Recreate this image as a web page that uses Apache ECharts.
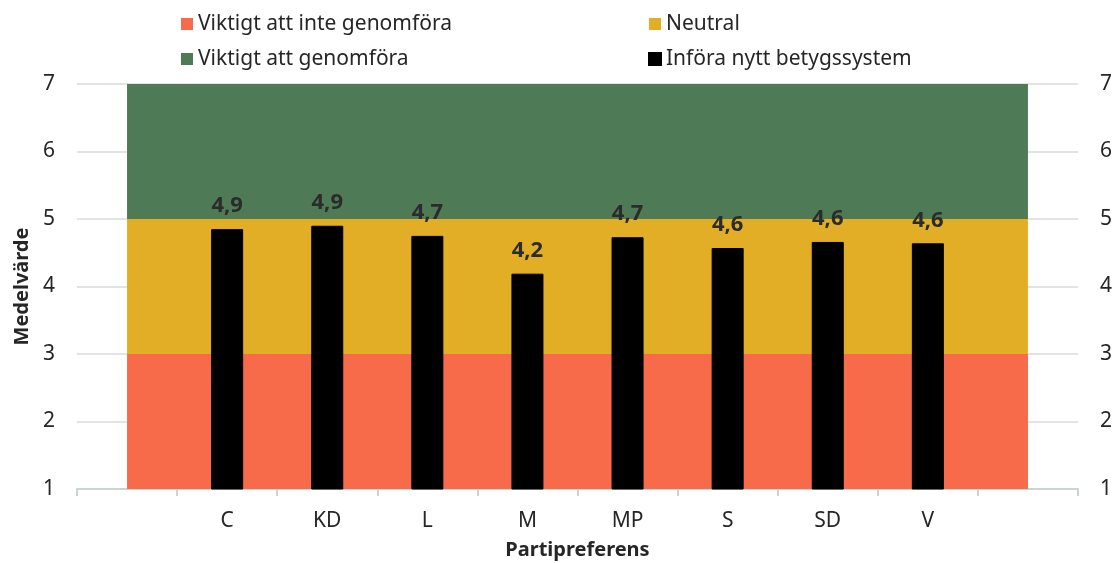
<!DOCTYPE html>
<html>
<head>
<meta charset="utf-8">
<style>
  html, body { margin: 0; padding: 0; background: #fff; }
  #chart { width: 1112px; height: 563px; }
</style>
<script src="https://cdn.jsdelivr.net/npm/echarts@6/dist/echarts.min.js"></script>
</head>
<body>
<div id="chart"></div>
<script>
// categories (first and last slot are empty)
const partier = [" ", "C", "KD", "L", "M", "MP", "S", "SD", "V", "  "]

// background bands, stacked from 1 up to 7
const bandInte = [3, 3, 3, 3, 3, 3, 3, 3, 3, 3]      // 1..3
const bandNeutral = [2, 2, 2, 2, 2, 2, 2, 2, 2, 2]   // 3..5
const bandViktigt = [2, 2, 2, 2, 2, 2, 2, 2, 2, 2]   // 5..7

// mean values per party
const betygssystem = [1, 4.85, 4.9, 4.75, 4.19, 4.73, 4.57, 4.66, 4.64, null]
const etiketter = ["", "4,9", "4,9", "4,7", "4,2", "4,7", "4,6", "4,6", "4,6", ""]

const yTicks = [1, 2, 3, 4, 5, 6, 7]

const FONT = "Noto Sans"
const TEXT = "#262626"

const chart = echarts.init(document.getElementById("chart"))

function band(name, data, color) {
  return {
    name: name,
    type: "line",
    stack: "band",
    data: data,
    symbol: "none",
    silent: true,
    lineStyle: { width: 0 },
    areaStyle: { color: color, opacity: 1 },
    itemStyle: { color: color },
    z: 1
  }
}

const legendText = { fontFamily: FONT, fontSize: 21, color: TEXT, lineHeight: 22 }

chart.setOption({
  animation: false,
  textStyle: { fontFamily: FONT },
  legend: [
    {
      orient: "vertical",
      left: 176,
      top: 8,
      icon: "rect",
      itemWidth: 12,
      itemHeight: 12,
      itemGap: 13,
      textStyle: legendText,
      data: ["Viktigt att inte genomföra", "Viktigt att genomföra"]
    },
    {
      orient: "vertical",
      left: 643,
      top: 8,
      icon: "rect",
      itemWidth: 12,
      itemHeight: 12,
      itemGap: 13,
      textStyle: legendText,
      data: ["Neutral", "Införa nytt betygssystem"]
    }
  ],
  grid: { left: 77, right: 34, top: 84, bottom: 74, containLabel: false, outerBoundsMode: "none" },
  xAxis: {
    type: "category",
    data: partier,
    boundaryGap: true,
    name: "Partipreferens",
    nameLocation: "middle",
    nameGap: 51,
    nameTextStyle: { fontFamily: FONT, fontSize: 20, fontWeight: "bold", color: TEXT },
    axisLine: { lineStyle: { color: "#ccd3d3", width: 2 } },
    axisTick: { show: true, interval: 0, length: 7, lineStyle: { color: "#ccd3d3", width: 2 } },
    axisLabel: { interval: 0, margin: 22, fontFamily: FONT, fontSize: 21, color: TEXT },
    splitLine: { show: false }
  },
  yAxis: [
    {
      type: "value",
      min: yTicks[0],
      max: yTicks[yTicks.length - 1],
      interval: 1,
      name: "Medelvärde",
      nameLocation: "middle",
      nameGap: 45,
      nameTextStyle: { fontFamily: FONT, fontSize: 20, fontWeight: "bold", color: TEXT },
      axisLine: { show: false },
      axisTick: { show: false },
      axisLabel: { margin: 22, fontFamily: FONT, fontSize: 21, color: TEXT },
      splitLine: { lineStyle: { color: "#d6dbdb", width: 1.5 } }
    },
    {
      type: "value",
      position: "right",
      min: yTicks[0],
      max: yTicks[yTicks.length - 1],
      interval: 1,
      axisLine: { show: false },
      axisTick: { show: false },
      axisLabel: { margin: 22, fontFamily: FONT, fontSize: 21, color: TEXT },
      splitLine: { show: false }
    }
  ],
  series: [
    band("Viktigt att inte genomföra", bandInte, "#F76B4A"),
    band("Neutral", bandNeutral, "#E2AE25"),
    band("Viktigt att genomföra", bandViktigt, "#4E7A56"),
    {
      name: "Införa nytt betygssystem",
      type: "bar",
      data: betygssystem,
      barWidth: 32,
      itemStyle: { color: "#000", borderColor: "#000", borderWidth: 1 },
      z: 5,
      label: {
        show: true,
        position: "top",
        distance: 12,
        fontFamily: FONT,
        fontSize: 22,
        fontWeight: "bold",
        color: "#2b2b2b",
        formatter: function (p) { return etiketter[p.dataIndex] }
      }
    }
  ]
})
</script>
</body>
</html>
